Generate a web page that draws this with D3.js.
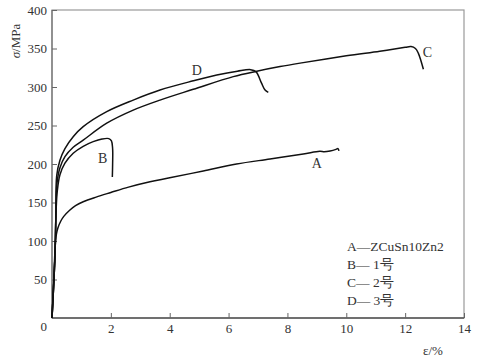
<!DOCTYPE html>
<html><head><meta charset="utf-8">
<script src="https://cdn.jsdelivr.net/npm/d3@7"></script>
<style>body{margin:0;background:#fff}svg{display:block}text{font-family:"Liberation Serif","Times New Roman","DejaVu Serif",serif;fill:#333}</style>
</head><body><svg id="c" width="492" height="362"></svg>
<script>
const xTicks = [2,4,6,8,10,12,14];
const yTicks = [50,100,150,200,250,300,350,400];
const aStrain = [0,0.06,0.12,0.15,0.2,0.3,0.4,0.6,0.8,1.06,1.5,2,2.6,3.33,4,5.14,6.27,7.41,8.54,9.1,9.25,9.45,9.65,9.72,9.75];
const aStress = [0,50,100,109,117,126,132,140,146,151,157,163,170,177,182,191,200,206.5,213,216.5,216,217,219,220,217];
const bStrain = [0,0.1,0.14,0.18,0.27,0.44,0.72,1.06,1.4,1.7,1.93,2.02,2.06,2.06,2.05];
const bStress = [0,80,140,165,186,201,214,223,229,232.5,233,230,220,200,183];
const cStrain = [0,0.1,0.13,0.17,0.27,0.44,0.72,1.06,1.86,2.76,3.67,4.8,6.16,6.96,7.75,8.43,10,11.14,12.0,12.2,12.35,12.45,12.62];
const cStress = [0,80,130,175,195,209.5,221.7,231,253,270,283,297,313.5,320.5,326.5,331,340.5,346.5,351.5,352.5,350,343.7,323];
const dStrain = [0,0.1,0.13,0.16,0.27,0.44,0.72,1.06,1.86,2.76,3.67,4.8,5.6,6.3,6.75,6.93,7.12,7.24,7.35];
const dStress = [0,80,130,185,205,220,235.5,248.5,268,283,296,308,315.6,320.5,322.5,320,305,296,293];
const legendLines = ["A\u2014ZCuSn10Zn2","B\u2014 1\u53f7","C\u2014 2\u53f7","D\u2014 3\u53f7"];
const curveLabels = ["A","B","C","D"];
const labelAt = [[8.83,195],[1.56,201],[12.6,339],[4.75,315.6]];

const svg = d3.select("#c");
const x = d3.scaleLinear().domain([0,14]).range([52,464]);
const y = d3.scaleLinear().domain([0,400]).range([318,10]);

svg.append("rect").attr("x",x(0)).attr("y",y(400)).attr("width",x(14)-x(0)).attr("height",y(0)-y(400))
  .attr("fill","none").attr("stroke","#999").attr("stroke-width",1.2);
svg.append("line").attr("x1",x(0)).attr("x2",x(0)).attr("y1",y(0)).attr("y2",y(400)).attr("stroke","#777").attr("stroke-width",1.3);
svg.append("line").attr("x1",x(0)).attr("x2",x(14)).attr("y1",y(0)).attr("y2",y(0)).attr("stroke","#555").attr("stroke-width",1.3);

const xa = svg.append("g").attr("transform",`translate(0,${y(0)})`)
  .call(d3.axisBottom(x).tickValues(xTicks).tickSize(-5).tickPadding(6).tickFormat(d3.format("d")));
const ya = svg.append("g").attr("transform",`translate(${x(0)},0)`)
  .call(d3.axisLeft(y).tickValues(yTicks).tickSize(-5).tickPadding(5).tickFormat(d3.format("d")));
[xa,ya].forEach(g=>{g.attr("font-family",null);g.select(".domain").remove();g.selectAll("line").attr("stroke","#666");g.selectAll("text").attr("font-size",13).attr("fill","#333");});
svg.append("text").attr("x",x(0)-5).attr("y",331).attr("text-anchor","end").attr("font-size",13).text("0");

const line = d3.line().x(d=>x(d[0])).y(d=>y(d[1])).curve(d3.curveCatmullRom.alpha(0.5));
const series = [[aStrain,aStress],[bStrain,bStress],[cStrain,cStress],[dStrain,dStress]];
series.forEach(([xs,ys])=>{
  svg.append("path").attr("d",line(xs.map((v,i)=>[v,ys[i]]))).attr("fill","none").attr("stroke","#111").attr("stroke-width",1.5);
});
curveLabels.forEach((t,i)=>{
  svg.append("text").attr("x",x(labelAt[i][0])).attr("y",y(labelAt[i][1])).attr("font-size",14).text(t);
});

legendLines.forEach((t,i)=>{
  svg.append("text").attr("x",347).attr("y",251+i*18).attr("font-size",13.5).text(t);
});

svg.append("text").attr("transform","translate(20,41) rotate(-90)").attr("text-anchor","middle").attr("font-size",13)
  .html('<tspan font-style="italic">\u03c3</tspan>/MPa');
svg.append("text").attr("x",433).attr("y",355).attr("text-anchor","middle").attr("font-size",13).text("\u03b5/%");
</script></body></html>
